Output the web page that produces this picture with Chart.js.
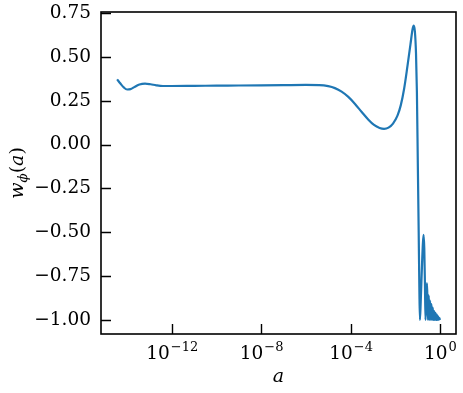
<!DOCTYPE html>
<html><head><meta charset="utf-8">
<script src="https://cdn.jsdelivr.net/npm/chart.js@4.4.1/dist/chart.umd.min.js"></script>
<style>html,body{margin:0;padding:0;background:#fff}#wrap{width:463px;height:393px}</style>
</head><body><div id="wrap"><canvas id="c" width="463" height="393"></canvas></div>
<script>
// log10(a) values of the scale factor
const logA = [
  -14.45,-14.30,-14.15,-14.00,-13.85,-13.65,-13.45,-13.20,-12.95,-12.70,-12.40,-12.00,
  -11.00,-10.00,-9.00,-8.00,-7.00,-6.00,-5.40,-5.00,-4.70,-4.40,-4.10,-3.80,-3.50,-3.20,
  -2.95,-2.70,-2.50,-2.30,-2.10,-1.90,-1.75,-1.60,-1.45,-1.32,-1.22,-1.17,-1.12,-1.07,
  -1.03,-0.99,-0.95,-0.92,-0.895,-0.86,-0.80,-0.76,-0.73,-0.70,-0.67,-0.645,-0.61,-0.58,
  -0.55,-0.53,-0.50,-0.47,-0.44,-0.41,-0.38,-0.35,-0.32,-0.29,-0.26,-0.23,-0.20,-0.17,
  -0.14,-0.11,-0.08,-0.05,-0.02,0.00
];
// equation of state w_phi(a)
const wPhi = [
  0.372,0.348,0.326,0.314,0.316,0.330,0.343,0.348,0.344,0.338,0.334,0.334,
  0.335,0.336,0.337,0.338,0.339,0.340,0.339,0.333,0.322,0.302,0.272,0.232,0.186,0.142,
  0.112,0.095,0.090,0.097,0.120,0.165,0.225,0.320,0.450,0.570,0.660,0.678,0.645,0.520,
  0.300,-0.100,-0.500,-0.820,-1.000,-0.900,-0.680,-0.560,-0.515,-0.590,-0.800,-1.000,-0.880,-0.790,
  -0.920,-1.000,-0.860,-1.000,-0.890,-1.000,-0.910,-1.000,-0.930,-1.000,-0.950,-1.000,-0.960,-1.000,
  -0.970,-1.000,-0.980,-1.000,-0.990,-1.000
];
const xTickValues = [-12, -8, -4, 0];
const xTickBase = '10';
const xTickExps = ['\u221212', '\u22128', '\u22124', '0'];
const yTickValues = [-1.00, -0.75, -0.50, -0.25, 0.00, 0.25, 0.50, 0.75];
const yTickLabels = ['\u22121.00', '\u22120.75', '\u22120.50', '\u22120.25', '0.00', '0.25', '0.50', '0.75'];

const FONT = '"DejaVu Serif", "Liberation Serif", serif';

const framePlugin = {
  id: 'frame',
  afterDraw(chart) {
    const ctx = chart.ctx, a = chart.chartArea;
    const xs = chart.scales.x, ys = chart.scales.y;
    ctx.save();
    ctx.strokeStyle = '#000';
    ctx.lineWidth = 1.6;
    ctx.strokeRect(a.left, a.top, a.right - a.left, a.bottom - a.top);
    ctx.lineWidth = 1.4;
    ctx.beginPath();
    yTickValues.forEach(v => {
      const py = Math.round(ys.getPixelForValue(v)) + 0.5;
      ctx.moveTo(a.left, py); ctx.lineTo(a.left + 10, py);
    });
    xTickValues.forEach(v => {
      const px = Math.round(xs.getPixelForValue(v)) + 0.5;
      ctx.moveTo(px, a.bottom); ctx.lineTo(px, a.bottom - 10);
    });
    ctx.stroke();
    // x tick labels 10^n
    ctx.fillStyle = '#000';
    ctx.textBaseline = 'alphabetic';
    ctx.textAlign = 'left';
    const baseFont = '18.5px ' + FONT, expFont = '13px ' + FONT;
    xTickValues.forEach((v, i) => {
      const px = xs.getPixelForValue(v);
      ctx.font = baseFont; const wb = ctx.measureText(xTickBase).width;
      ctx.font = expFont; const we = ctx.measureText(xTickExps[i]).width;
      const x0 = px - (wb + we) / 2;
      ctx.font = baseFont; ctx.fillText(xTickBase, x0, 359);
      ctx.font = expFont; ctx.fillText(xTickExps[i], x0 + wb + 1, 351);
    });
    // x title
    ctx.font = 'italic 19px ' + FONT;
    ctx.textAlign = 'center';
    ctx.textBaseline = 'middle';
    ctx.fillText('a', (a.left + a.right) / 2, 377);
    // y title w_phi(a)
    ctx.translate(17, (a.top + a.bottom) / 2);
    ctx.rotate(-Math.PI / 2);
    ctx.textAlign = 'left';
    ctx.textBaseline = 'alphabetic';
    const parts = [
      ['w', 'italic 19px ' + FONT, 0],
      ['\u03d5', 'italic 13.5px ' + FONT, 4],
      ['(', '19px ' + FONT, 0],
      ['a', 'italic 19px ' + FONT, 0],
      [')', '19px ' + FONT, 0]
    ];
    let total = 0;
    parts.forEach(p => { ctx.font = p[1]; p.push(ctx.measureText(p[0]).width); total += p[3]; });
    let x = -total / 2;
    parts.forEach(p => { ctx.font = p[1]; ctx.fillText(p[0], x, 6 + p[2]); x += p[3]; });
    ctx.restore();
  }
};

new Chart(document.getElementById('c'), {
  type: 'line',
  data: {
    datasets: [{
      data: logA.map((x, i) => ({ x: x, y: wPhi[i] })),
      borderColor: '#1f77b4',
      borderWidth: 2.2,
      pointRadius: 0,
      fill: false,
      cubicInterpolationMode: 'monotone'
    }]
  },
  options: {
    responsive: false,
    animation: false,
    devicePixelRatio: 1,
    layout: { padding: { top: 12, right: 7, left: 0, bottom: 0 } },
    plugins: { legend: { display: false }, tooltip: { enabled: false } },
    scales: {
      x: {
        type: 'linear', min: -15.17, max: 0.72,
        grid: { display: false }, border: { display: false },
        ticks: { display: false },
        afterBuildTicks(s) { s.ticks = xTickValues.map(v => ({ value: v })); },
        afterFit(s) { s.height = 59; s.paddingLeft = 0; s.paddingRight = 0; }
      },
      y: {
        type: 'linear', min: -1.08, max: 0.756,
        grid: { display: false, drawTicks: false }, border: { display: false },
        ticks: {
          autoSkip: false, padding: 10, color: '#000',
          font: { family: FONT, size: 18.5 },
          callback: (v, i) => yTickLabels[i]
        },
        afterBuildTicks(s) { s.ticks = yTickValues.map(v => ({ value: v })); },
        afterFit(s) { s.width = 101; s.paddingTop = 0; s.paddingBottom = 0; }
      }
    }
  },
  plugins: [framePlugin]
});
</script></body></html>
